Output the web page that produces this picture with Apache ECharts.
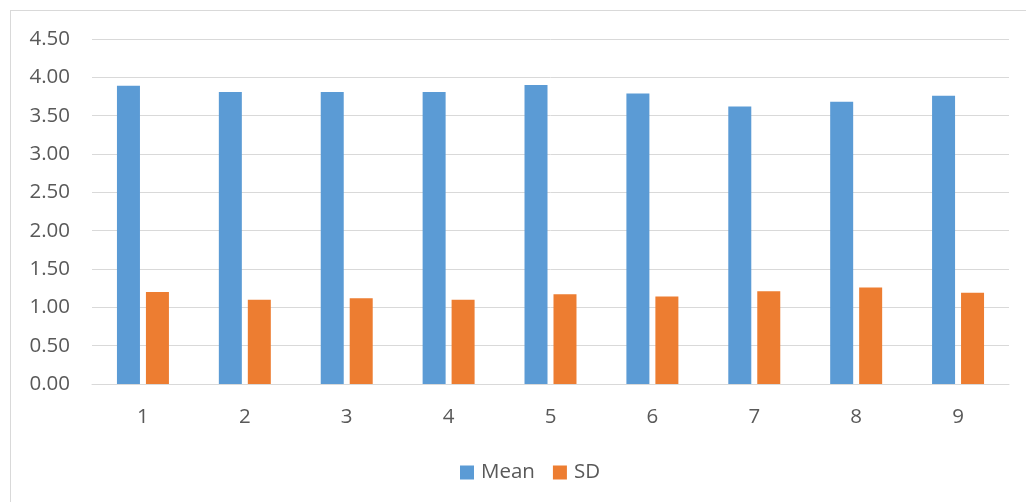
<!DOCTYPE html>
<html>
<head>
<meta charset="utf-8">
<script src="https://cdn.jsdelivr.net/npm/echarts@6/dist/echarts.min.js"></script>
<style>
  html, body { margin: 0; padding: 0; background: #ffffff; overflow: hidden; }
  #wrap { position: relative; width: 1026px; height: 502px; overflow: hidden; }
  #chart { position: absolute; left: 0; top: 0; width: 1026px; height: 502px; }
  #frame { position: absolute; left: 10px; top: 10px; width: 1100px; height: 600px; border: 1px solid #D9D9D9; box-sizing: border-box; pointer-events: none; }
</style>
</head>
<body>
<div id="wrap">
  <div id="frame"></div>
  <div id="chart"></div>
</div>
<script>
const categories = ['1', '2', '3', '4', '5', '6', '7', '8', '9'];
const meanValues = [3.89, 3.81, 3.81, 3.81, 3.90, 3.79, 3.62, 3.68, 3.76];
const sdValues = [1.20, 1.10, 1.12, 1.10, 1.17, 1.14, 1.21, 1.26, 1.19];
const seriesNames = ['Mean', 'SD'];

const textColor = '#595959';
const font = 'Open Sans';
const chart = echarts.init(document.getElementById('chart'), null, { renderer: 'canvas' });
chart.setOption({
  animation: false,
  backgroundColor: 'transparent',
  textStyle: { fontFamily: font },
  grid: { left: 92, right: 17, top: 39, bottom: 118 },
  legend: {
    data: seriesNames,
    left: 455,
    top: 457,
    itemWidth: 14,
    itemHeight: 14,
    itemGap: 18,
    icon: 'rect',
    textStyle: { color: textColor, fontSize: 20.5, fontFamily: font, padding: [0, 0, 0, 2] }
  },
  xAxis: {
    type: 'category',
    data: categories,
    axisLine: { show: true, lineStyle: { color: '#D9D9D9', width: 1 } },
    axisTick: { show: false },
    axisLabel: { color: textColor, fontSize: 20.5, fontFamily: font, margin: 23 },
    splitLine: { show: false }
  },
  yAxis: {
    type: 'value',
    min: 0,
    max: 4.5,
    interval: 0.5,
    axisLine: { show: false },
    axisTick: { show: false },
    axisLabel: {
      color: textColor, fontSize: 20.5, fontFamily: font, margin: 22,
      formatter: v => v.toFixed(2)
    },
    splitLine: { show: true, lineStyle: { color: '#D9D9D9', width: 1 } }
  },
  series: [
    {
      name: seriesNames[0],
      type: 'bar',
      data: meanValues,
      barWidth: 23,
      barGap: '26%',
      itemStyle: { color: '#5B9BD5' }
    },
    {
      name: seriesNames[1],
      type: 'bar',
      data: sdValues,
      barWidth: 23,
      barGap: '26%',
      itemStyle: { color: '#ED7D31' }
    }
  ]
});
</script>
</body>
</html>
